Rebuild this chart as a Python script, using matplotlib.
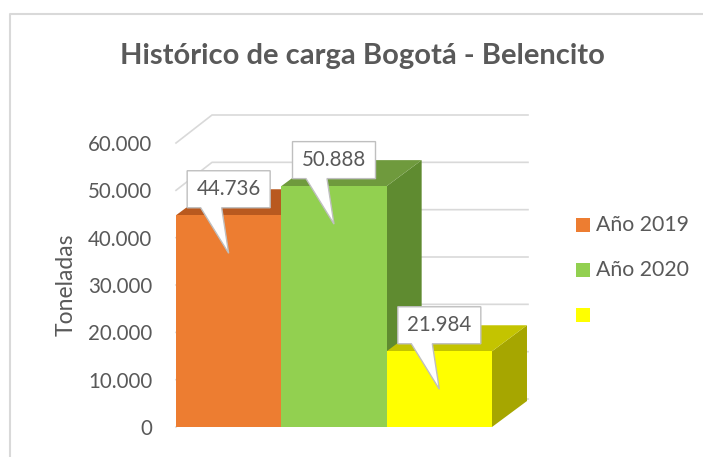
import matplotlib.pyplot as plt
from matplotlib.patches import Polygon, Rectangle
from matplotlib.lines import Line2D
from matplotlib.transforms import IdentityTransform

plt.rcParams['font.family'] = ['Lato', 'DejaVu Sans']

# data
categorias = ['Año 2019', 'Año 2020', '']
valores = [44736, 50888, 16000]           # bar heights as drawn
etiquetas = ['44.736', '50.888', '21.984']  # labels shown on the callouts
ticks = [0, 10000, 20000, 30000, 40000, 50000, 60000]
tick_labels = ['0', '10.000', '20.000', '30.000', '40.000', '50.000', '60.000']

# colours: front, top, side
frente = ['#ED7D31', '#92D050', '#FFFF00']
techo = ['#B9591F', '#6F9A3D', '#C4C400']
lado = ['#B9591F', '#5F8B30', '#A6A600']

texto = '#595959'
gris = '#D9D9D9'
fs = 14.8

W, H = 703, 457
fig = plt.figure(figsize=(W / 100, H / 100), dpi=100)

# axes placed in pixels: x 0..3.4 from px 176, y 0 at px 427, 60000 at px 143
xmax, ymax = 3.4, 66200
ppx = 105.33
ppy = 284 / 60000
ax = fig.add_axes([176 / W, (H - 427) / H, xmax * ppx / W, ymax * ppy / H])
ax.set_xlim(0, xmax)
ax.set_ylim(0, ymax)
for s in ax.spines.values():
    s.set_visible(False)
ax.set_xticks([])
ax.set_yticks(ticks)
ax.set_yticklabels(tick_labels, color=texto, fontsize=fs)
ax.tick_params(axis='y', length=0, pad=17)

# depth offsets (bars and walls)
DX, DY = 35 / ppx, 26 / ppy
DXW, DYW = 36 / ppx, 28 / ppy
n = len(valores)

# gridlines on side wall and back wall
for t in ticks:
    ax.add_line(Line2D([0, DXW, n + DXW], [t, t + DYW, t + DYW],
                       color=gris, lw=1.2, zorder=1, clip_on=False))

# 3D-looking bars
for i, v in enumerate(valores):
    x0 = i
    z = 2 + i
    ax.add_patch(Polygon([(x0 + 1, 0), (x0 + 1 + DX, DY), (x0 + 1 + DX, v + DY), (x0 + 1, v)],
                         closed=True, fc=lado[i], ec='none', zorder=z, clip_on=False))
    ax.add_patch(Polygon([(x0, v), (x0 + 1, v), (x0 + 1 + DX, v + DY), (x0 + DX, v + DY)],
                         closed=True, fc=techo[i], ec='none', zorder=z, clip_on=False))
    ax.add_patch(Rectangle((x0, 0), 1, v, fc=frente[i], ec='none', zorder=z, clip_on=False))

# callout labels, built in pixels around each bar's top
fig.canvas.draw()
for i, v in enumerate(valores):
    px, py = ax.transData.transform((i + 0.5, v))
    cx, cy = px, py + 26
    bw, bh = 41.5, 18.5
    pts = [(cx - bw, cy + bh), (cx + bw, cy + bh), (cx + bw, cy - bh),
           (cx - 7, cy - bh), (cx, py - 38), (cx - 28, cy - bh), (cx - bw, cy - bh)]
    fig.add_artist(Polygon(pts, closed=True, fc='white', ec='#BFBFBF', lw=1,
                           transform=IdentityTransform(), zorder=10))
    fig.text(cx / W, cy / H, etiquetas[i], ha='center', va='center',
             color=texto, fontsize=fs, zorder=11)

# title and axis title
fig.text(362 / W, 1 - 64 / H, 'Histórico de carga Bogotá - Belencito',
         ha='center', va='baseline', fontsize=21, fontweight='bold', color=texto)
fig.text(66 / W, 1 - 285 / H, 'Toneladas', rotation=90, ha='center', va='center',
         fontsize=16.5, color=texto)

# legend
for i, lab in enumerate(categorias):
    yc = 225 + 45 * i
    fig.add_artist(Rectangle((576 / W, 1 - (yc + 7) / H), 14 / W, 14 / H,
                             fc=frente[i], ec='none', transform=fig.transFigure))
    fig.text(596 / W, 1 - yc / H, lab, ha='left', va='center', fontsize=15.3, color=texto)

# chart border (left and top)
fig.add_artist(Line2D([9.5 / W, 9.5 / W, 1], [0, 1 - 13.5 / H, 1 - 13.5 / H],
                      color=gris, lw=1.5, transform=fig.transFigure))

fig.savefig('out.png', dpi=100)
